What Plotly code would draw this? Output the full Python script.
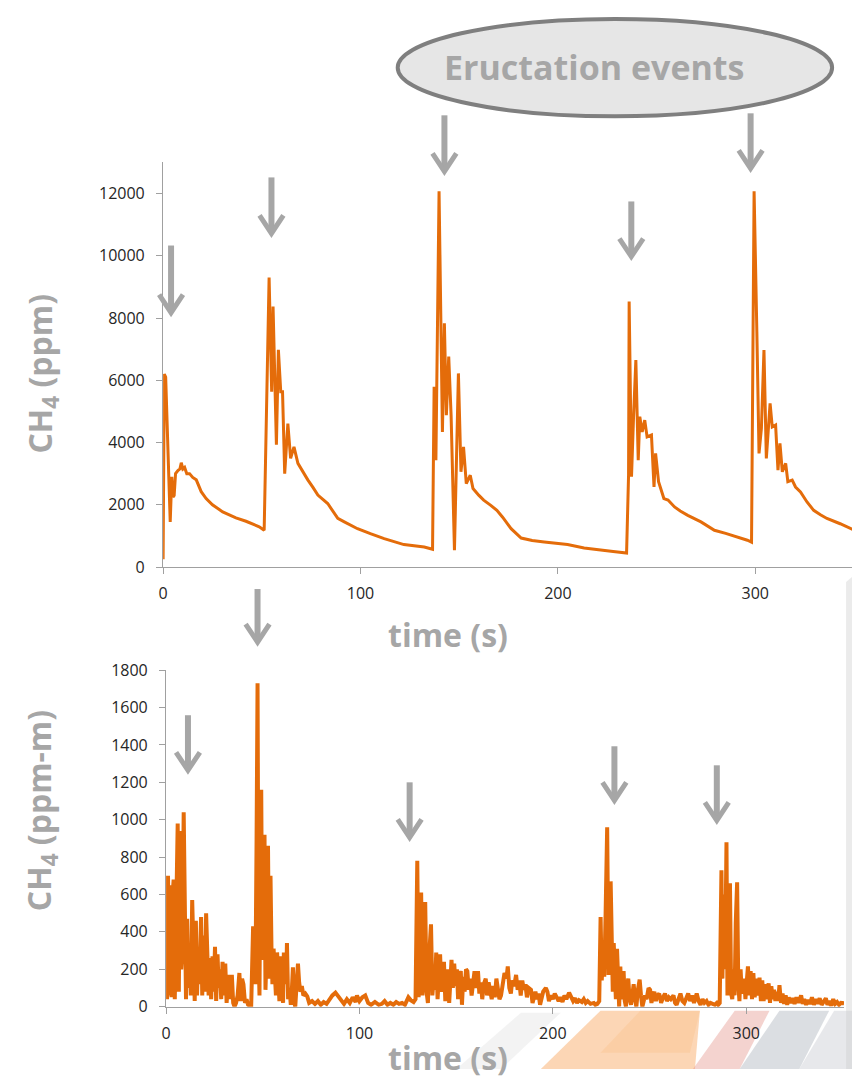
import plotly.graph_objects as go

# ---------------- data ----------------
# Top panel: CH4 (ppm) vs time (s)
top_time = [0, 0.6, 1.3, 2.5, 3.6, 4.4, 5.0, 5.6, 6.3, 7.5, 8.5, 9.2, 10.0, 10.9, 12.0, 13.4,
            15.0, 16.8, 18.0, 19.3, 21.8, 25.0, 30.2, 36.9, 42.0, 45.3, 48.7, 51.2, 53.7, 55.0,
            55.7, 57.4, 58.4, 59.6, 60.5, 61.6, 63.2, 64.6, 66.3, 68.3, 70.8, 73.3, 76.0, 78.4,
            83.4, 88.5, 91.8, 98.5, 105, 112, 122, 132.3, 136.5, 137.3, 138.2, 139.8, 141.5,
            142.5, 143.5, 144.7, 145.9, 147.6, 149.6, 150.9, 152.2, 153.6, 155.6, 157.0, 160,
            162.4, 166, 169.1, 172, 176.3, 181.4, 187, 193.1, 204.9, 213.3, 221.7, 228, 234.8,
            235.8, 236.1, 237.3, 238.3, 239.5, 240.7, 241.5, 242.7, 244.0, 245.2, 247.4, 248.7,
            249.5, 251.0, 253.7, 255.8, 259.1, 262, 265.8, 272.5, 279.3, 285, 289.3, 296, 298.1,
            298.6, 299.4, 300.8, 301.9, 303.1, 304.4, 305.6, 307.5, 308.6, 310.3, 311.5, 312.5,
            313.7, 315.4, 316.5, 318.7, 320.4, 322.9, 326.2, 329.6, 333, 336.3, 343, 350]
top_ppm = [250, 6200, 6100, 3400, 1450, 2900, 2250, 2300, 3000, 3100, 3150, 3350, 3150, 3200, 3000, 3000,
           2880, 2800, 2600, 2420, 2200, 2000, 1770, 1580, 1470, 1390, 1290, 1180, 9300, 5630,
           8370, 3930, 6980, 5630, 5630, 3000, 4610, 3490, 3860, 3330, 3060, 2800, 2550, 2310,
           2040, 1560, 1450, 1230, 1070, 910, 720, 640, 570, 5790, 3430, 12070, 4340,
           7830, 4880, 6760, 4880, 540, 6220, 3060, 3860, 2680, 2950, 2520, 2300,
           2150, 1980, 1820, 1600, 1230, 930, 850, 800, 720, 610, 560, 500, 450,
           2950, 8530, 2900, 4770, 6650, 3430, 4830, 4340, 4720, 4180, 4240, 2570,
           3650, 2740, 2200, 2150, 1930, 1800, 1660, 1450, 1180, 1080, 1000, 860, 800,
           4400, 12070, 7560, 3650, 4450, 6970, 3490, 5260, 4500, 4560, 3110, 3970,
           3060, 3330, 2740, 2790, 2570, 2410, 2090, 1820, 1680, 1560, 1390, 1190]

# Bottom panel: CH4 (ppm-m) vs time (s)
bot_time = [0, 0.5, 1.0, 1.6, 2.2, 2.8, 3.4, 3.9, 4.5, 5.2, 6.0, 6.6, 7.2, 7.8, 8.4, 9.1, 9.7, 10.3,
            10.9, 11.5, 12.2, 12.8, 13.5, 14.2, 14.8, 15.4, 16.0, 16.6, 17.2, 18.1, 18.7, 19.4,
            20.1, 20.7, 21.4, 22.0, 22.7, 23.3, 24.0, 24.6, 25.3, 25.9, 26.6, 27.2, 27.9, 28.5,
            29.2, 29.9, 30.6, 31.3, 32.0, 32.7, 33.4, 34.0, 34.7, 35.4, 36.2, 37.0, 37.9, 38.6,
            39.3, 40.0, 40.8, 41.6, 42.4, 43.2, 44.0, 45.0, 45.6, 46.2, 46.8, 47.3, 47.8, 48.3,
            48.8, 49.2, 49.7, 50.2, 50.9, 51.4, 52.0, 52.7, 53.3, 54.0, 54.5, 55.0, 55.6, 56.2,
            56.8, 57.4, 58.0, 58.6, 59.3, 59.9, 60.5, 60.9, 61.6, 62.1, 62.5, 63.1, 63.8, 64.5,
            65.0, 65.6, 66.2, 66.8, 67.5, 68.2, 68.8, 69.5, 70.2, 71.0, 72.0, 73.0, 74.0, 75.5,
            77.0, 78.5, 80.0, 81.5, 83.0, 84.5, 86.0, 87.6, 89.0, 90.5, 92.0, 93.5, 95.0, 96.5,
            98.0, 98.7, 100.0, 101.5, 103.0, 104.5, 106.0, 108.0, 110.0, 111.6, 113.0, 114.5,
            116.0, 117.5, 119.0, 120.5, 122.0, 123.5, 125.3, 126.5, 128.0, 129.0, 129.9, 130.6,
            131.3, 131.9, 132.6, 133.3, 134.0, 134.7, 135.4, 136.2, 137.0, 137.7, 138.4, 139.0,
            139.7, 140.4, 141.0, 141.7, 142.4, 143.0, 143.7, 144.4, 145.0, 145.7, 146.4, 147.0,
            147.6, 148.3, 149.0, 149.7, 150.4, 151.0, 151.7, 152.4, 153.0, 153.7, 154.4, 155.1,
            155.8, 156.5, 157.2, 158.0, 158.8, 159.5, 160.3, 161.3, 162.0, 162.8, 163.5, 164.3,
            165.3, 166.0, 166.8, 167.6, 168.4, 169.2, 170.0, 170.8, 171.6, 172.4, 173.2, 174.0,
            175.0, 176.0, 176.7, 177.5, 178.3, 179.0, 180.0, 181.0, 181.8, 182.6, 183.4, 184.2,
            185.0, 185.8, 186.6, 187.5, 188.7, 189.5, 190.3, 191.0, 191.8, 192.6, 193.4, 194.2,
            195.0, 196.4, 197.2, 198.0, 199.0, 200.0, 201.0, 202.0, 203.0, 204.0, 205.0, 206.0,
            207.0, 208.4, 209.5, 210.5, 211.5, 212.5, 213.5, 215.0, 216.0, 217.0, 218.0, 219.5,
            221.2, 222.0, 223.0, 224.0, 224.7, 225.3, 226.0, 226.6, 227.3, 228.1, 228.8, 229.4,
            229.9, 230.5, 231.0, 231.5, 232.1, 232.6, 233.2, 233.8, 234.3, 234.9, 235.5, 236.0,
            236.6, 237.2, 237.8, 238.4, 239.0, 239.7, 240.4, 241.1, 241.8, 242.5, 243.2, 244.0,
            244.9, 245.6, 246.3, 247.0, 247.7, 248.5, 249.5, 250.3, 251.0, 251.8, 252.5, 253.3,
            254.0, 255.0, 256.0, 257.0, 258.0, 259.0, 260.0, 261.0, 262.4, 263.2, 264.0, 265.0,
            266.0, 267.0, 268.0, 269.0, 270.0, 271.0, 272.0, 273.0, 274.4, 275.4, 276.4, 277.4,
            278.4, 279.5, 280.5, 281.5, 282.5, 283.8, 284.8, 285.5, 286.3, 287.2, 287.7, 288.3,
            288.8, 289.3, 289.8, 290.3, 290.9, 291.6, 292.2, 292.8, 293.5, 294.0, 294.6, 295.3,
            295.9, 296.5, 297.1, 297.7, 298.3, 299.0, 299.6, 300.3, 300.9, 301.6, 302.3, 303.0,
            303.7, 304.4, 305.1, 305.8, 306.5, 306.9, 307.6, 308.3, 309.0, 309.7, 310.4, 311.1,
            311.6, 312.3, 313.0, 313.7, 314.4, 315.1, 315.8, 316.5, 317.2, 318.0, 318.8, 319.6,
            320.4, 321.2, 322.0, 323.0, 324.0, 325.0, 326.0, 327.0, 328.4, 329.2, 330.0, 331.0,
            332.0, 333.0, 334.0, 335.0, 336.0, 337.0, 338.0, 339.0, 340.0, 341.2, 342.0, 343.0,
            344.0, 345.0, 346.0, 347.0, 348.0, 349.0, 350.6]
bot_ppmm = [390, 40, 700, 60, 650, 50, 600, 680, 40, 560, 980, 80, 940, 200, 300, 1040, 250, 40,
            470, 100, 330, 60, 570, 150, 30, 460, 60, 300, 120, 480, 60, 380,
            80, 500, 120, 60, 260, 40, 270, 80, 320, 30, 280, 100, 200, 40,
            240, 60, 230, 20, 120, 170, 40, 170, 20, 0, 20, 60, 180, 30,
            150, 120, 20, 40, 10, 5, 0, 430, 200, 120, 900, 1730, 300, 60,
            900, 1160, 250, 400, 920, 90, 300, 860, 150, 700, 310, 120, 310, 150,
            60, 290, 160, 30, 270, 130, 20, 290, 170, 120, 340, 40, 100, 10,
            80, 210, 30, 0, 120, 230, 130, 80, 110, 60, 70, 55, 20, 30,
            15, 30, 10, 25, 15, 40, 60, 75, 55, 30, 15, 40, 20, 50,
            25, 60, 30, 50, 60, 20, 10, 25, 10, 15, 30, 10,
            20, 10, 25, 15, 20, 10, 50, 35, 25, 40, 780, 50,
            300, 610, 60, 330, 560, 80, 20, 300, 440, 60, 150, 90,
            290, 40, 180, 280, 80, 140, 240, 30, 130, 200, 20, 150,
            250, 100, 230, 110, 200, 40, 170, 190, 10, 160, 80, 200,
            190, 90, 150, 60, 140, 190, 100, 190, 70, 130, 40, 120,
            150, 60, 130, 90, 40, 110, 50, 150, 90, 40, 60, 120,
            180, 150, 215, 100, 70, 140, 110, 170, 90, 140, 60, 140,
            90, 120, 50, 100, 90, 20, 50, 80, 40, 70, 10, 40,
            80, 100, 80, 30, 60, 40, 70, 50, 30, 50, 25, 60,
            40, 75, 50, 30, 45, 20, 35, 25, 40, 20, 30, 15,
            20, 10, 15, 30, 480, 140, 300, 160, 500, 960, 170, 300,
            670, 200, 80, 340, 120, 40, 310, 60, 0, 215, 40, 80,
            190, 30, 0, 110, 150, 40, 10, 60, 120, 40, 0, 90,
            145, 60, 0, 30, 60, 40, 100, 90, 20, 60, 80, 30,
            60, 70, 20, 50, 70, 30, 50, 40, 60, 20, 10, 40,
            70, 30, 20, 45, 70, 30, 60, 20, 70, 30, 10, 40,
            20, 30, 10, 20, 15, 10, 20, 10, 20, 730, 150, 600,
            200, 400, 880, 60, 150, 660, 70, 40, 200, 60, 450, 665,
            120, 30, 200, 70, 100, 150, 40, 180, 215, 60, 190, 40,
            180, 50, 150, 60, 130, 155, 30, 140, 30, 120, 40, 110,
            125, 20, 110, 40, 90, 30, 80, 30, 115, 20, 70, 15,
            60, 10, 50, 20, 45, 15, 50, 20, 60, 15, 40, 10,
            35, 15, 50, 10, 40, 15, 45, 10, 30, 45, 10, 30,
            5, 40, 15, 25, 10, 20, 18]

x_ticks = [0, 100, 200, 300]
top_yticks = [0, 2000, 4000, 6000, 8000, 10000, 12000]
bot_yticks = [0, 200, 400, 600, 800, 1000, 1200, 1400, 1600, 1800]

# ---------------- layout helpers (target pixels -> paper) ----------------
OFF = 8                 # default body margin of the page
W, H = 844, 1072
SY, AY = 0.978, 10.0    # observed vertical scaling of the photographed page
def fx(px):
    return min(1.0, max(0.0, (px - 1 - OFF) / W))
def fy(py):
    page_y = (py - AY) / SY
    return min(1.0, max(0.0, 1 - (page_y - OFF) / H))

ORANGE = "#E46C0A"
AXIS = "#a0a0a0"
TITLE_GRAY = "#a6a6a6"
TICK_FONT = dict(family="Open Sans, sans-serif", size=16, color="#262626")

fig = go.Figure()
fig.add_trace(go.Scatter(x=top_time, y=top_ppm, mode="lines",
                         line=dict(color=ORANGE, width=3), xaxis="x", yaxis="y",
                         hoverinfo="skip", showlegend=False))
fig.add_trace(go.Scatter(x=bot_time, y=bot_ppmm, mode="lines",
                         line=dict(color=ORANGE, width=4), xaxis="x2", yaxis="y2",
                         hoverinfo="skip", showlegend=False))

ax_common = dict(showline=True, linecolor=AXIS, linewidth=1.3, ticks="outside",
                 ticklen=6, tickcolor=AXIS, tickwidth=1.3, showgrid=False,
                 zeroline=False, tickfont=TICK_FONT, tickformat="d")

fig.update_layout(
    width=W, height=H, margin=dict(l=0, r=0, t=0, b=0),
    paper_bgcolor="white", plot_bgcolor="rgba(0,0,0,0)", showlegend=False,
    xaxis=dict(domain=[fx(160), fx(853)], range=[0, 349], tickvals=x_ticks,
               anchor="y", ticklabelstandoff=6, **ax_common),
    yaxis=dict(domain=[fy(565), fy(161)], range=[0, 13000], tickvals=top_yticks,
               anchor="x", ticklabelstandoff=8, **ax_common),
    xaxis2=dict(domain=[fx(163), fx(845)], range=[0, 350.6], tickvals=x_ticks,
                anchor="y2", ticklabelstandoff=6, **ax_common),
    yaxis2=dict(domain=[fy(1004), fy(668)], range=[0, 1800], tickvals=bot_yticks,
                anchor="x2", ticklabelstandoff=8, **ax_common),
)

shapes = []
# decorative background swoosh (bottom right)
def poly(pts):
    return "M " + " L ".join(f"{fx(a):.5f},{fy(b):.5f}" for a, b in pts) + " Z"
bg = [
    ([(455, 1078), (520, 1010), (560, 1010), (500, 1078)], "rgba(200,200,200,0.22)"),
    ([(540, 1078), (600, 1008), (700, 1008), (695, 1078)], "rgba(248,165,90,0.45)"),
    ([(600, 1050), (640, 1008), (700, 1008), (690, 1050)], "rgba(250,190,130,0.30)"),
    ([(693, 1078), (735, 1008), (770, 1008), (740, 1078)], "rgba(225,140,130,0.38)"),
    ([(740, 1078), (780, 1008), (830, 1008), (800, 1078)], "rgba(160,168,180,0.38)"),
    ([(800, 1078), (835, 1008), (860, 1008), (860, 1078)], "rgba(195,198,204,0.40)"),
    ([(847, 580), (860, 575), (860, 1078), (847, 1078)], "rgba(205,205,205,0.40)"),
]
for pts, col in bg:
    shapes.append(dict(type="path", xref="paper", yref="paper", path=poly(pts),
                       fillcolor=col, line=dict(width=0), layer="below"))

# ellipse callout
shapes.append(dict(type="circle", xref="paper", yref="paper",
                   x0=fx(396), x1=fx(833), y0=fy(115), y1=fy(12),
                   fillcolor="#e6e6e6", line=dict(color="#7f7f7f", width=4)))

# event arrows: (x pixel, tail pixel, tip pixel)
arrows = [(168, 244, 316), (269, 176, 237), (443, 114, 175), (631, 200, 260), (751, 112, 172),
          (255, 587, 645), (185, 713, 773), (408, 780, 840), (614, 744, 803), (717, 763, 823)]
for px, tail, tip in arrows:
    shapes.append(dict(type="path", xref="paper", yref="paper",
                       path=f"M {fx(px)},{fy(tail)} L {fx(px)},{fy(tip - 6)}",
                       line=dict(color=TITLE_GRAY, width=6)))
    shapes.append(dict(type="path", xref="paper", yref="paper",
                       path=(f"M {fx(px - 12)},{fy(tip - 23)} L {fx(px)},{fy(tip - 5)} "
                             f"L {fx(px + 12)},{fy(tip - 23)}"),
                       line=dict(color=TITLE_GRAY, width=5)))
fig.update_layout(shapes=shapes)

TITLE_FONT = dict(family="Open Sans, sans-serif", size=32, color=TITLE_GRAY, weight="bold")
ann = [
    dict(text="Eructation events", x=fx(594), y=fy(66),
         font=dict(family="Open Sans, sans-serif", size=34, color=TITLE_GRAY, weight="bold")),
    dict(text="time (s)", x=fx(447), y=fy(632), font=TITLE_FONT),
    dict(text="time (s)", x=fx(447), y=fy(1055), font=TITLE_FONT),
    dict(text="CH<sub>4</sub> (ppm)", x=fx(38), y=fy(372), textangle=-90, font=TITLE_FONT),
    dict(text="CH<sub>4</sub> (ppm-m)", x=fx(38), y=fy(808), textangle=-90, font=TITLE_FONT),
]
for a in ann:
    a.update(xref="paper", yref="paper", showarrow=False, xanchor="center", yanchor="middle")
fig.update_layout(annotations=ann)

fig.write_html("out.html")
